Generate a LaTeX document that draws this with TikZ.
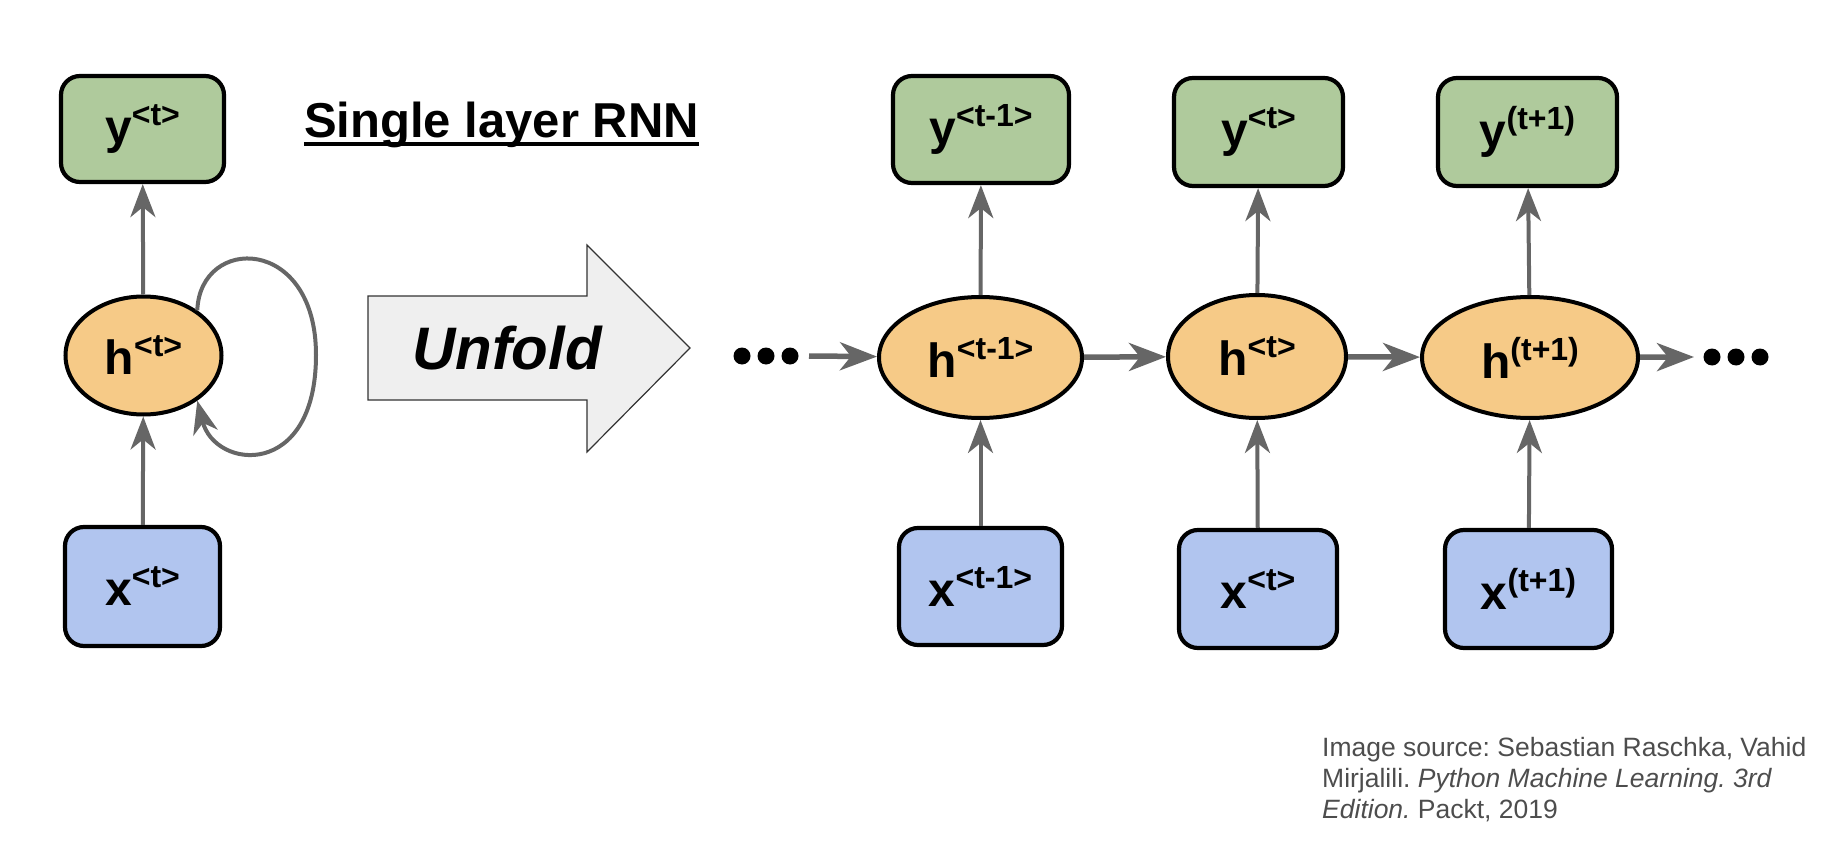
\documentclass[tikz,border=0pt]{standalone}
\usepackage{fontspec}
\setmainfont{Liberation Sans}
\usetikzlibrary{arrows.meta,shapes.geometric}
\definecolor{ygreen}{HTML}{AFCA9C}
\definecolor{horange}{HTML}{F6CA87}
\definecolor{xblue}{HTML}{B1C5EF}
\definecolor{agrey}{HTML}{666666}
\definecolor{ugrey}{HTML}{EFEFEF}
\definecolor{capgrey}{HTML}{4D4D4D}
\newcommand\lab[2]{\fontsize{48}{48}\selectfont\bfseries #1\raisebox{18pt}{\fontsize{32}{32}\selectfont #2}}
\tikzset{
  box/.style={draw=black, line width=4.2pt, rounded corners=19pt, inner sep=0pt},
  ybox/.style={box, fill=ygreen},
  xbox/.style={box, fill=xblue},
  hnode/.style={draw=black, line width=4pt, ellipse, fill=horange, inner sep=0pt},
  varr/.style={draw=agrey, line width=4pt, -{Stealth[length=33pt, width=25pt, inset=10pt]}},
  harr/.style={draw=agrey, line width=5.5pt, -{Stealth[length=37pt, width=28pt, inset=11pt]}},
  dotnode/.style={circle, fill=black, inner sep=0pt, minimum size=17pt},
}
\begin{document}
\begin{tikzpicture}[x=1pt, y=-1pt]
\useasboundingbox (0,0) rectangle (1842,848);

% left single layer
\node[ybox, minimum width=163pt, minimum height=106pt] (y0) at (142.5,129) {\lab{y}{<t>}};
\node[hnode, minimum width=156pt, minimum height=118pt] (h0) at (143.5,355.5) {\lab{h}{<t>}};
\node[xbox, minimum width=155pt, minimum height=119pt] (x0) at (142.5,586.5) {\lab{x}{<t>}};
\draw[varr] (h0) -- (y0);
\draw[varr] (x0) -- (h0);
\draw[varr] (h0.40) .. controls (200,235) and (316,235) .. (316,355) .. controls (316,480) and (215,470) .. (h0.-40);

% title
\node[anchor=base, inner sep=0pt, font=\fontsize{49}{49}\selectfont\bfseries] (title) at (501.5,138) {Single layer RNN};
\draw[line width=3.5pt] ([yshift=-6pt]title.base west) -- ([yshift=-6pt]title.base east);

% unfold arrow
\draw[fill=ugrey, draw=black!80, line width=1.2pt] (368,296) -- (587,296) -- (587,245) -- (690,348) -- (587,452) -- (587,400) -- (368,400) -- cycle;
\node[inner sep=0pt, font=\fontsize{60}{60}\selectfont\bfseries\itshape] (unfold) at (507,348) {Unfold};

% unfolded
\node[ybox, minimum width=176pt, minimum height=107pt] (y1) at (981,129.5) {\lab{y}{<t-1>}};
\node[ybox, minimum width=169pt, minimum height=108pt] (y2) at (1258.5,132) {\lab{y}{<t>}};
\node[ybox, minimum width=179pt, minimum height=108pt] (y3) at (1527.5,132) {\lab{y}{(t+1)}};
\node[hnode, minimum width=203pt, minimum height=121pt] (h1) at (980.5,357.5) {\lab{h}{<t-1>}};
\node[hnode, minimum width=178pt, minimum height=123pt] (h2) at (1257,356.5) {\lab{h}{<t>}};
\node[hnode, minimum width=216pt, minimum height=121pt] (h3) at (1530,357.5) {\lab{h}{(t+1)}};
\node[xbox, minimum width=163pt, minimum height=117pt] (x1) at (980.5,586.5) {\lab{x}{<t-1>}};
\node[xbox, minimum width=158pt, minimum height=118pt] (x2) at (1258,589) {\lab{x}{<t>}};
\node[xbox, minimum width=167pt, minimum height=118pt] (x3) at (1528.5,589) {\lab{x}{(t+1)}};

\foreach \i in {1,2,3} {
  \draw[varr] (h\i) -- (y\i);
  \draw[varr] (x\i) -- (h\i);
}

% dots
\node[dotnode] (ld1) at (742,356) {};
\node[dotnode] (ld2) at (766,356) {};
\node[dotnode] (ld3) at (790,356) {};
\node[dotnode] (rd1) at (1712,357) {};
\node[dotnode] (rd2) at (1736,357) {};
\node[dotnode] (rd3) at (1760,357) {};
\coordinate (ls) at (809,356);
\coordinate (re) at (1694,357);
\draw[harr] (ls) -- (h1);
\draw[harr] (h1) -- (h2);
\draw[harr] (h2) -- (h3);
\draw[harr] (h3) -- (re);

% caption
\node[anchor=north west, inner sep=0pt, align=left, text=capgrey, font=\fontsize{26.5}{31}\selectfont\frenchspacing] (cap) at (1322,737)
  {Image source: Sebastian Raschka, Vahid\\Mirjalili. \textit{Python Machine Learning. 3rd}\\\textit{Edition.} Packt, 2019};
\end{tikzpicture}
\end{document}
